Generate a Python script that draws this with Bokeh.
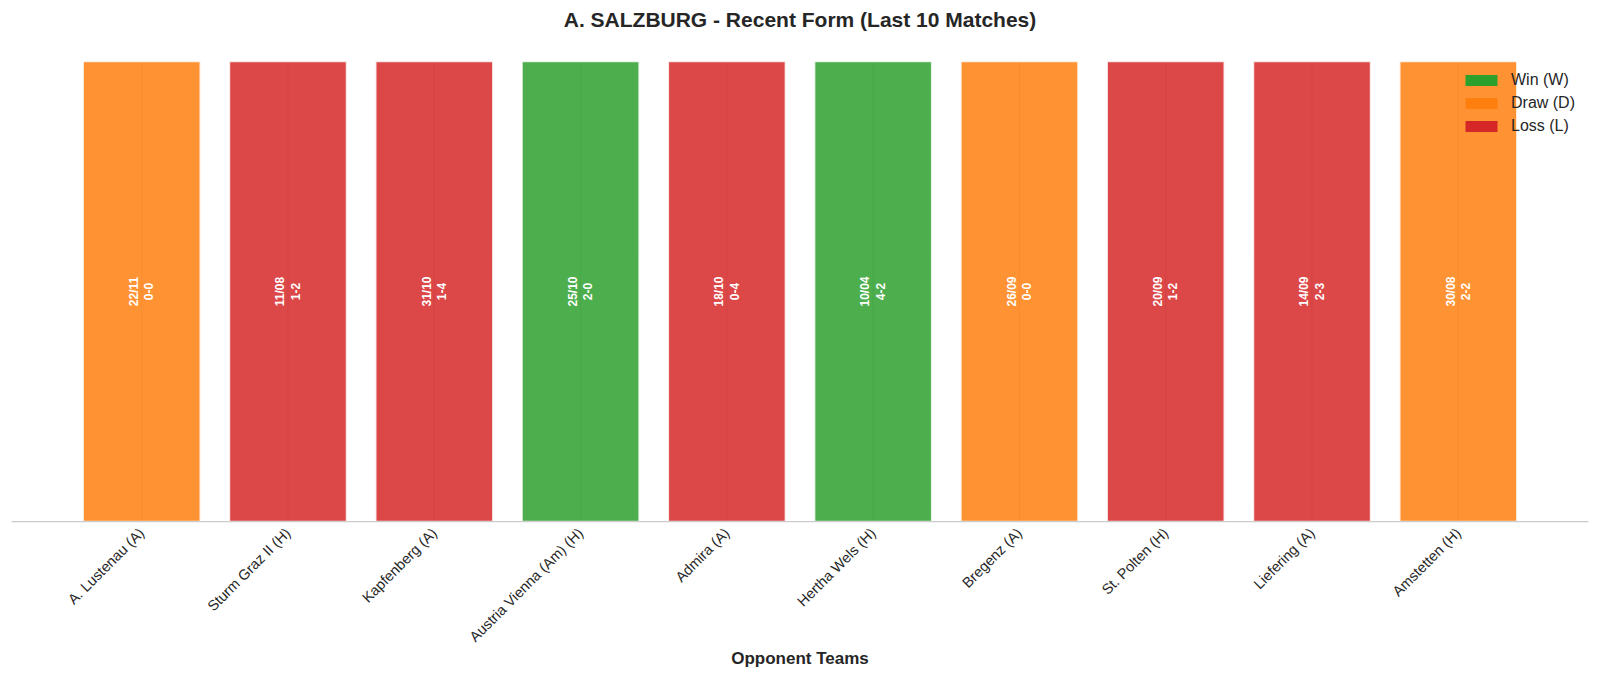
from math import pi
from bokeh.plotting import figure
from bokeh.models import (ColumnDataSource, FactorRange, CDSView, GroupFilter,
                          Legend, LegendItem, Label, Range1d)
from bokeh.core.properties import value
from bokeh.embed import file_html
from bokeh.resources import INLINE

# ---- data ----
opponents = ["A. Lustenau (A)", "Sturm Graz II (H)", "Kapfenberg (A)",
             "Austria Vienna (Am) (H)", "Admira (A)", "Hertha Wels (H)",
             "Bregenz (A)", "St. Polten (H)", "Liefering (A)", "Amstetten (H)"]
dates = ["22/11", "11/08", "31/10", "25/10", "18/10", "10/04",
         "26/09", "20/09", "14/09", "30/08"]
scores = ["0-0", "1-2", "1-4", "2-0", "0-4", "4-2", "0-0", "1-2", "2-3", "2-2"]
results = ["D", "L", "L", "W", "L", "W", "D", "L", "L", "D"]
bar_values = [1] * len(opponents)

outcome_keys = ["W", "D", "L"]
outcome_names = ["Win (W)", "Draw (D)", "Loss (L)"]
outcome_colors = {"W": "#2ca02c", "D": "#ff7f0e", "L": "#d62728"}


def blend(hex_color, alpha=0.85):
    h = hex_color.lstrip("#")
    rgb = [int(h[i:i + 2], 16) for i in (0, 2, 4)]
    out = [round(alpha * c + (1 - alpha) * 255) for c in rgb]
    return "#%02x%02x%02x" % tuple(out)


src = ColumnDataSource(dict(
    team=opponents,
    top=bar_values,
    base=[0] * len(bar_values),
    mid=[v / 2 for v in bar_values],
    result=results,
    shown=[blend(outcome_colors[r]) for r in results],
    label=[d + "\n" + s for d, s in zip(dates, scores)],
))

FONT = "Liberation Sans"
TXT = "#262626"
W, H = 1600, 678
ML, MR, MB = 11, 12, 157
AX_TOP = 61                      # top of the bar area (page px)
FRAME_W, FRAME_H = W - ML - MR, H - MB   # frame reaches the top of the canvas
BAR_H = FRAME_H - AX_TOP
y_end = max(bar_values) * FRAME_H / BAR_H

p = figure(width=W, height=H, output_backend="svg", toolbar_location=None,
           title=None,
           x_range=FactorRange(factors=opponents, range_padding=0.39,
                               range_padding_units="absolute"),
           y_range=Range1d(0, y_end),
           min_border_left=ML, min_border_right=MR,
           min_border_top=0, min_border_bottom=MB)

p.outline_line_color = None
p.background_fill_color = "white"
p.border_fill_color = "white"
p.xgrid.visible = False
p.ygrid.visible = False

# legend-only renderers (hidden below the visible bars)
legend_items = []
for key, name in zip(outcome_keys, outcome_names):
    r = p.vbar(x="team", top="top", width=0.8, source=src,
               view=CDSView(filter=GroupFilter(column_name="result", group=key)),
               fill_color=outcome_colors[key], line_color=None)
    legend_items.append(LegendItem(label=name, renderers=[r]))

# visible bars
p.vbar(x="team", top="top", width=0.8, source=src,
       fill_color="shown", line_color="white", line_width=1.5, line_alpha=0.85)

# faint grid line at each category, showing through the bars
p.segment(x0="team", y0="base", x1="team", y1="top", source=src,
          line_color="black", line_alpha=0.035, line_width=1)

p.text(x="team", y="mid", text="label", source=src, angle=pi / 2,
       text_align="center", text_baseline="middle",
       text_font=value(FONT), text_font_size="12px", text_font_style="bold",
       text_color="white", text_line_height=1.1)

p.yaxis.visible = False

ax = p.xaxis[0]
ax.axis_label = "Opponent Teams"
ax.axis_label_text_font = FONT
ax.axis_label_text_font_size = "17px"
ax.axis_label_text_font_style = "bold"
ax.axis_label_text_color = TXT
ax.axis_label_standoff = -4
ax.major_label_orientation = pi / 4
ax.major_label_text_font = FONT
ax.major_label_text_font_size = "14.5px"
ax.major_label_text_color = TXT
ax.major_label_standoff = 3
ax.major_tick_line_color = None
ax.minor_tick_line_color = None
ax.axis_line_color = "#cccccc"
ax.axis_line_width = 1.25

legend = Legend(items=legend_items, location=(1441, 376),
                glyph_width=40, glyph_height=14, label_height=20, spacing=3,
                label_standoff=10, padding=9, margin=0,
                label_text_font=FONT, label_text_font_size="16px",
                label_text_color=TXT,
                background_fill_alpha=0, border_line_alpha=0)
p.add_layout(legend, "center")

title = Label(x=FRAME_W / 2, y=FRAME_H - 19, x_units="screen", y_units="screen",
              text="A. SALZBURG - Recent Form (Last 10 Matches)",
              text_align="center", text_baseline="alphabetic",
              text_font=FONT, text_font_size="21px", text_font_style="bold",
              text_color=TXT)
p.add_layout(title)

open("out.html", "w").write(file_html(p, INLINE))
